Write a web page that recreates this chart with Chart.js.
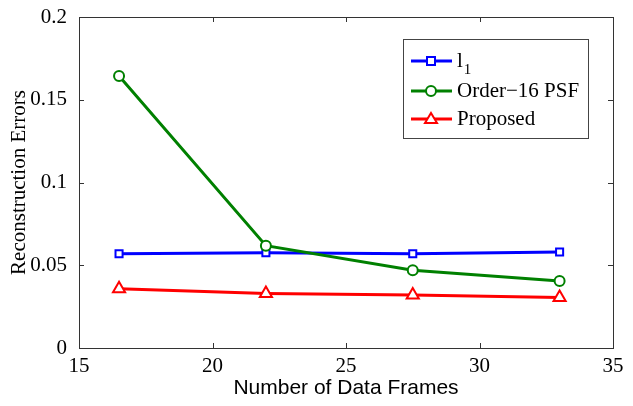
<!DOCTYPE html>
<html><head><meta charset="utf-8">
<script src="https://cdn.jsdelivr.net/npm/chart.js@4/dist/chart.umd.min.js"></script>
<style>html,body{margin:0;padding:0;background:#fff}#wrap{width:633px;height:406px}</style>
</head><body><div id="wrap"><canvas id="c" width="633" height="406"></canvas></div>
<script>
const frames = [16.5, 22, 27.5, 33];
const l1Errors = [0.057, 0.0575, 0.057, 0.058];
const psfErrors = [0.1643, 0.0618, 0.047, 0.0405];
const proposedErrors = [0.0358, 0.033, 0.032, 0.0305];
const seriesNames = ['l', 'Order\u221216 PSF', 'Proposed'];
const xTicks = [15, 20, 25, 30, 35];
const yTicks = [0, 0.05, 0.1, 0.15, 0.2];
const xTitle = 'Number of Data Frames';
const yTitle = 'Reconstruction Errors';

const pts = arr => frames.map((x, i) => ({x, y: arr[i]}));
const serif = 'Liberation Serif, Times New Roman, serif';

const framePlugin = {
  id: 'frame',
  afterDatasetsDraw(chart) {
    const {ctx, chartArea: a, scales} = chart;
    ctx.save();
    ctx.strokeStyle = '#333';
    ctx.lineWidth = 1;
    ctx.strokeRect(Math.round(a.left) + 0.5, Math.round(a.top) + 0.5, Math.round(a.right - a.left), Math.round(a.bottom - a.top));
    const L = 5;
    ctx.beginPath();
    xTicks.forEach(v => {
      const x = Math.round(scales.x.getPixelForValue(v)) + 0.5;
      ctx.moveTo(x, a.bottom); ctx.lineTo(x, a.bottom - L);
      ctx.moveTo(x, a.top); ctx.lineTo(x, a.top + L);
    });
    yTicks.forEach(v => {
      const y = Math.round(scales.y.getPixelForValue(v)) + 0.5;
      ctx.moveTo(a.left, y); ctx.lineTo(a.left + L, y);
      ctx.moveTo(a.right, y); ctx.lineTo(a.right - L, y);
    });
    ctx.stroke();
    // legend
    const bx = 403, by = 39, bw = 185, bh = 99;
    ctx.fillStyle = '#fff';
    ctx.fillRect(bx, by, bw, bh);
    ctx.strokeStyle = '#444';
    ctx.strokeRect(bx + 0.5, by + 0.5, bw, bh);
    const rowY = [61, 91, 119];
    chart.data.datasets.forEach((ds, i) => {
      const y = rowY[i];
      ctx.strokeStyle = ds.borderColor;
      ctx.lineWidth = 3;
      ctx.beginPath(); ctx.moveTo(411, y); ctx.lineTo(452, y); ctx.stroke();
      ctx.lineWidth = 2;
      ctx.fillStyle = '#fff';
      const mx = 431;
      ctx.beginPath();
      if (ds.pointStyle === 'rect') { ctx.rect(mx - 4, y - 4, 8, 8); }
      else if (ds.pointStyle === 'circle') { ctx.arc(mx, y, 5, 0, Math.PI * 2); }
      else { ctx.moveTo(mx, y - 6); ctx.lineTo(mx + 6, y + 4); ctx.lineTo(mx - 6, y + 4); ctx.closePath(); }
      ctx.fill(); ctx.stroke();
      ctx.fillStyle = '#000';
      ctx.font = '21px ' + serif;
      ctx.textBaseline = 'middle';
      ctx.textAlign = 'left';
      ctx.fillText(ds.label, 457, y);
      if (i === 0) {
        const w = ctx.measureText(ds.label).width;
        ctx.font = '15px ' + serif;
        ctx.fillText('1', 457 + w + 1, y + 9);
      }
    });
    ctx.restore();
  }
};

new Chart(document.getElementById('c'), {
  type: 'line',
  data: {
    datasets: [
      {label: seriesNames[0], data: pts(l1Errors), borderColor: '#0000ff', pointStyle: 'rect', pointRadius: 5, order: 3},
      {label: seriesNames[1], data: pts(psfErrors), borderColor: '#008000', pointStyle: 'circle', pointRadius: 5, order: 2},
      {label: seriesNames[2], data: pts(proposedErrors), borderColor: '#ff0000', pointStyle: 'triangle', pointRadius: 7, order: 1}
    ].map(d => Object.assign({borderWidth: 3, pointBorderWidth: 2, pointBackgroundColor: '#fff', pointBorderColor: d.borderColor, tension: 0, fill: false}, d))
  },
  options: {
    responsive: false,
    animation: false,
    devicePixelRatio: 1,
    layout: {padding: {top: 17, right: 20, left: 0, bottom: 0}},
    plugins: {legend: {display: false}, tooltip: {enabled: false}},
    scales: {
      x: {
        type: 'linear', min: 15, max: 35,
        afterBuildTicks: s => { s.ticks = xTicks.map(v => ({value: v})); },
        afterFit: s => { s.height = 58; },
        grid: {display: false},
        border: {display: false},
        ticks: {color: '#000', font: {family: serif, size: 21}, padding: -2, maxRotation: 0, callback: v => String(v)},
        title: {display: true, text: xTitle, color: '#000', font: {family: 'Liberation Sans, Arial, sans-serif', size: 21}, padding: {top: -4, bottom: 5}}
      },
      y: {
        type: 'linear', min: 0, max: 0.2,
        afterBuildTicks: s => { s.ticks = yTicks.map(v => ({value: v})); },
        afterFit: s => { s.width = 79; },
        grid: {display: false},
        border: {display: false},
        ticks: {color: '#000', font: {family: serif, size: 21}, padding: 4, callback: v => String(+v.toFixed(2))},
        title: {display: true, text: yTitle, color: '#000', font: {family: serif, size: 21}, padding: {top: 7, bottom: 0}}
      }
    }
  },
  plugins: [framePlugin]
});
</script></body></html>
